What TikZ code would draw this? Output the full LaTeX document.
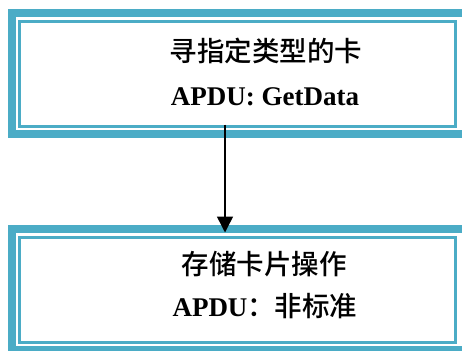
\documentclass[tikz,border=0pt]{standalone}
\usepackage{fontspec}
\setmainfont{Liberation Serif}
\newfontfamily\cjk[UprightFont={* Medium}, BoldFont={* Medium}]{Noto Sans CJK SC}
\usetikzlibrary{arrows.meta}
\definecolor{frameblue}{HTML}{4BACC6}
\tikzset{
  outerframe/.style={draw=frameblue, line width=8pt},
  innerbox/.style={draw=frameblue, line width=3pt, rectangle, inner sep=0pt, outer sep=0pt,
    minimum width=435.5pt, minimum height=105pt},
  cjkline/.style={anchor=base, font=\cjk\fontsize{27.5}{27.5}\selectfont, inner sep=0pt},
  latinline/.style={anchor=base, font=\bfseries\fontsize{27}{27}\selectfont, inner sep=0pt},
  flowarrow/.style={draw=black, line width=1.5pt, -{Triangle[length=16pt, width=16pt]}}
}
\begin{document}
\begin{tikzpicture}[x=1pt, y=-1pt]
  \useasboundingbox (0,0) rectangle (462,350);
  \clip (0,0) rectangle (462,350);

  % upper card: thick outer frame and thin inner frame
  \draw[outerframe] (12,13) rectangle (470,134);
  \node[innerbox] (b1) at (237.25,74) {};
  \node[cjkline] (t1a) at (266,61.5) {寻指定类型的卡};
  \node[latinline] (t1b) at (265,105) {APDU: GetData};

  % lower card
  \draw[outerframe] (12,229) rectangle (470,350);
  \node[innerbox] (b2) at (237.25,290) {};
  \node[cjkline] (t2a) at (264,274.5) {存储卡片操作};
  \node[latinline] (t2b) at (265,316) {APDU{\cjk\fontsize{27.5}{27.5}\selectfont ：非标准}};

  % connector between the cards
  \coordinate (ax) at (225,0);
  \draw[flowarrow, shorten <=-2pt, shorten >=5pt] (b1.south -| ax) -- (b2.north -| ax);
\end{tikzpicture}
\end{document}
